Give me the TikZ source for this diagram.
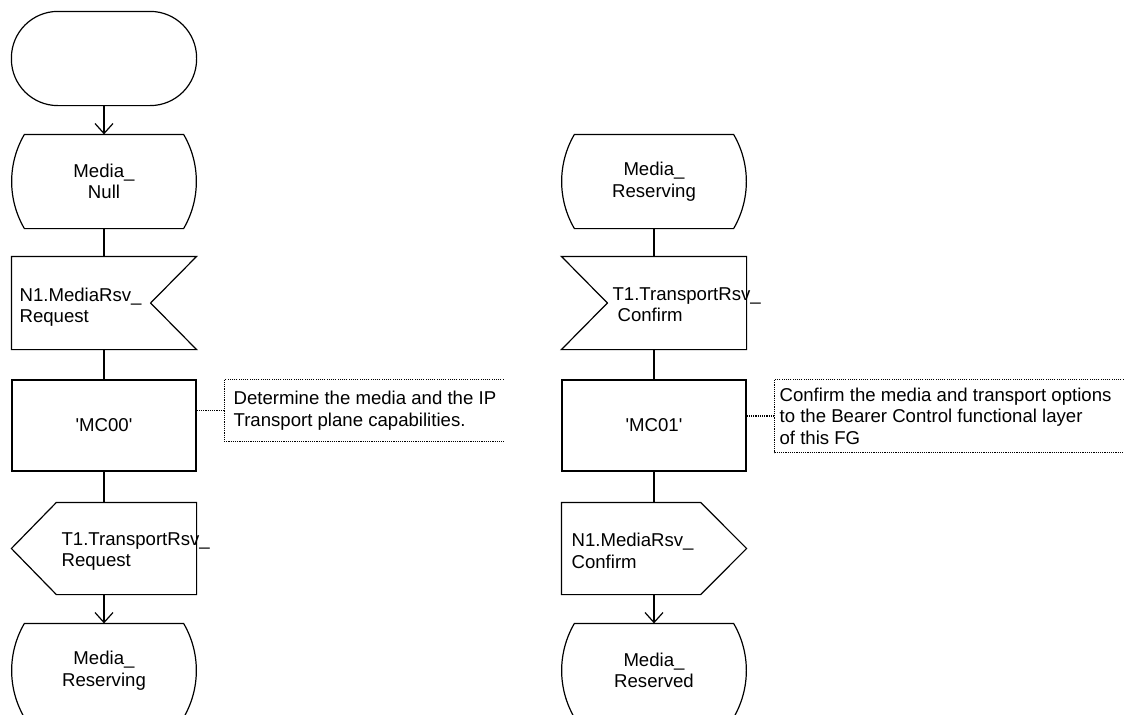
\documentclass[tikz,border=0pt]{standalone}
\usepackage{fontspec}
\setmainfont{Liberation Sans}[Ligatures=TeXOff]
\usetikzlibrary{arrows.meta,calc}
\newcommand\sdlstate[1]{%
  \draw ($(#1.north west)+(13,0)$) -- ($(#1.north east)+(-13,0)$)
    .. controls ($(#1.east)+(4,-18)$) and ($(#1.east)+(4,18)$) .. ($(#1.south east)+(-13,0)$)
    -- ($(#1.south west)+(13,0)$)
    .. controls ($(#1.west)+(-4,18)$) and ($(#1.west)+(-4,-18)$) .. cycle;}
\begin{document}
\begin{tikzpicture}[x=1pt,y=-1pt, line width=1.2pt,
  box/.style={draw=none, inner sep=0pt, minimum width=184pt, minimum height=#1, align=center},
  txt/.style={font=\fontsize{18.6}{21.5}\selectfont, inner sep=0pt},
  arr/.style={-{Straight Barb[length=10pt,width=18pt]}},
  note/.style={line width=1.1pt, dash pattern=on 1.1pt off 1.1pt}]
\useasboundingbox (0,0) rectangle (1125,715);
\clip (0,0) rectangle (1125,715);

% ---------------- left column ----------------
\node[box=93pt] (start) at (104,58.5) {};
\draw[rounded corners=46.5pt] (start.north west) rectangle (start.south east);

\node[box=93pt, txt] (s1) at (104,181.5) {Media\_\\Null};
\sdlstate{s1}

\node[box=92pt] (in1) at (104,303) {};
\draw (in1.north west) -- (in1.north east) -- ($(in1.east)+(-46,0)$) -- (in1.south east) -- (in1.south west) -- cycle;
\node[txt, anchor=west, align=left] (in1t) at (19,307) {N1.MediaRsv\_\\Request};

\node[box=91pt, draw, txt] (t1) at (104,425.5) {'MC00'};

\node[draw=none, inner sep=0pt, minimum width=278pt, minimum height=61pt] (c1) at (364,410.5) {};
\draw[note] (c1.north east) -- (c1.north west) -- (c1.south west) -- (c1.south east);
\node[txt, anchor=west, align=left] (c1t) at (233,410.5)
  {Determine the media and the IP\\Transport plane capabilities.};
\draw[note] (t1.east |- c1.west) -- (c1.west);

\node[box=91pt] (out1) at (104,548.5) {};
\draw ($(out1.north west)+(45,0)$) -- (out1.north east) -- (out1.south east) -- ($(out1.south west)+(45,0)$) -- (out1.west) -- cycle;
\node[txt, anchor=west, align=left] (out1t) at (61,551.5) {T1.TransportRsv\_\\Request};

\node[box=93pt, txt] (s2) at (104,670.5) {Media\_\\Reserving};
\sdlstate{s2}

\draw[arr] (start.south) -- (s1.north);
\draw (s1.south) -- (in1.north);
\draw (in1.south) -- (t1.north);
\draw (t1.south) -- (out1.north);
\draw[arr] (out1.south) -- (s2.north);

% ---------------- right column ----------------
\node[box=93pt, txt] (s1r) at (654,181.5) {Media\_\\Reserving};
\sdlstate{s1r}

\node[box=92pt] (in2) at (654,303) {};
\draw (in2.north west) -- (in2.north east) -- (in2.south east) -- (in2.south west) -- ($(in2.west)+(46,0)$) -- cycle;
\node[txt, anchor=west, align=left] (in2t) at (612,304.5) {T1.TransportRsv\_\\\hspace*{5pt}Confirm};

\node[box=91pt, draw, txt] (t2) at (654,425.5) {'MC01'};

\node[draw=none, inner sep=0pt, minimum width=348pt, minimum height=72pt] (c2) at (949,416) {};
\draw[note] (c2.north east) -- (c2.north west) -- (c2.south west) -- (c2.south east);
\node[txt, anchor=west, align=left] (c2t) at (779,416)
  {Confirm the media and transport options\\to the Bearer Control functional layer\\of this FG};
\draw[note] (t2.east |- c2.west) -- (c2.west);

\node[box=91pt] (out2) at (654,548.5) {};
\draw (out2.north west) -- ($(out2.north east)+(-46,0)$) -- (out2.east) -- ($(out2.south east)+(-46,0)$) -- (out2.south west) -- cycle;
\node[txt, anchor=west, align=left] (out2t) at (571,551) {N1.MediaRsv\_\\Confirm};

\node[box=93pt, txt] (s2r) at (654,670.5) {Media\_\\Reserved};
\sdlstate{s2r}

\draw (s1r.south) -- (in2.north);
\draw (in2.south) -- (t2.north);
\draw (t2.south) -- (out2.north);
\draw[arr] (out2.south) -- (s2r.north);
\end{tikzpicture}
\end{document}
